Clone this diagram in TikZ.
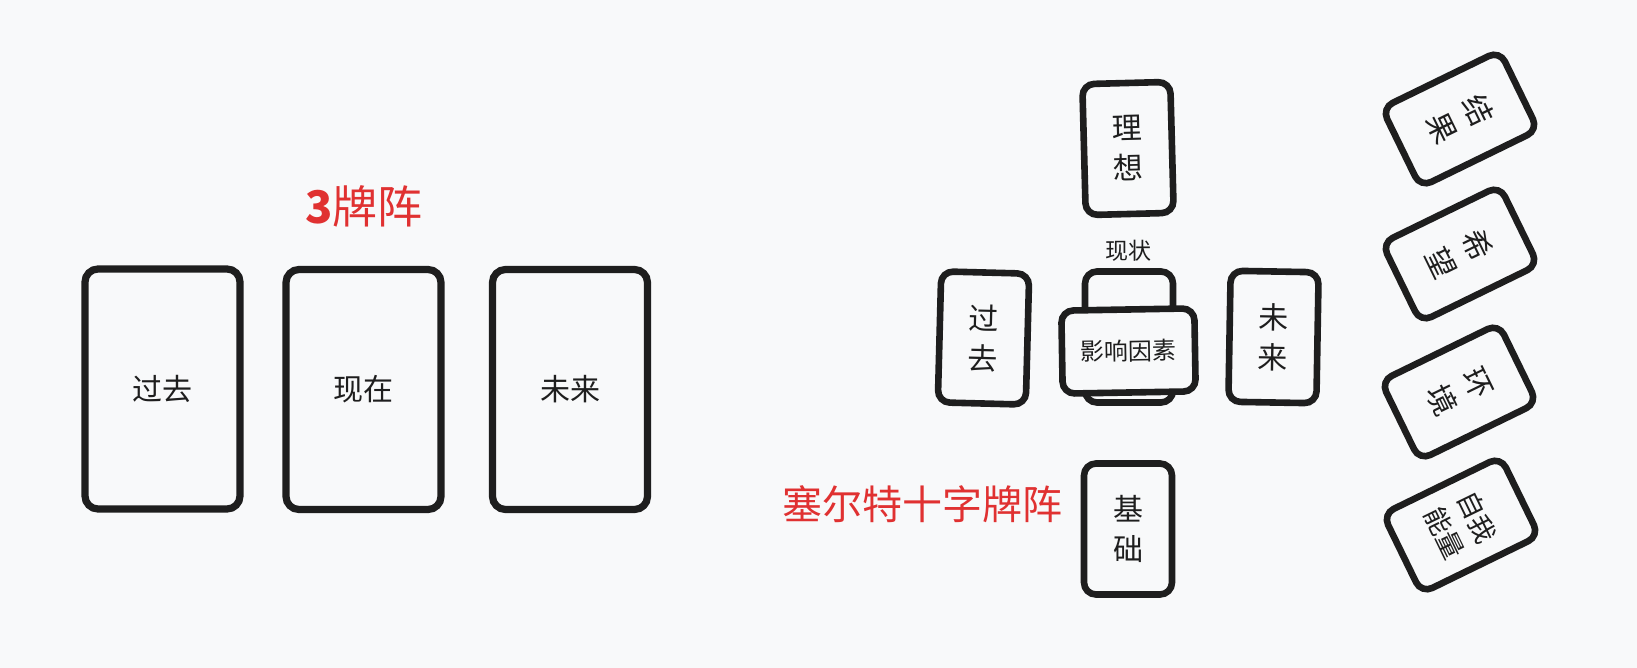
\documentclass[tikz,border=0pt]{standalone}
\usepackage{fontspec}
\setmainfont{Noto Sans CJK SC}
\definecolor{ink}{HTML}{1E1E1E}
\definecolor{redtxt}{HTML}{E03131}
\definecolor{bg}{HTML}{F8F9FA}
\begin{document}
\begin{tikzpicture}[x=0.5pt,y=-0.5pt,
 card/.style={draw=ink, line width=3.3pt, rounded corners=6pt, inner sep=0pt, fill=bg, text=ink, align=center, font=\fontsize{15pt}{20pt}\selectfont},
 bigcard/.style={card, line width=3.6pt, rounded corners=6.5pt, minimum width=77.5pt, minimum height=120pt},
 smallcard/.style={card, minimum width=44pt, minimum height=65.5pt},
 widecard/.style={card, minimum width=66.5pt, minimum height=41.5pt, font=\fontsize{12pt}{14pt}\selectfont},
 tiltcard/.style={smallcard, rotate=-64},
 titletext/.style={text=redtxt, font=\fontsize{20pt}{24pt}\selectfont, inner sep=0pt},
 labeltext/.style={text=ink, font=\fontsize{11.5pt}{14pt}\selectfont, inner sep=0pt}
]
\fill[bg] (0,0) rectangle (1637,668);
\useasboundingbox (0,0) rectangle (1637,668);

% three-card spread
\node[titletext, font=\fontsize{22.5pt}{26pt}\selectfont] (t3) at (364,206) {{\bfseries 3}牌阵};
\node[bigcard] (past) at (162.5,389) {过去};
\node[bigcard] (now) at (363.5,389.5) {现在};
\node[bigcard] (future) at (570,389.5) {未来};

% celtic cross
\node[smallcard, rotate=1.5] (ideal) at (1128,148.5) {理\\想};
\node[labeltext] (curlabel) at (1128,251) {现状};
\node[smallcard] (current) at (1129,337) {};
\node[widecard, rotate=1] (influence) at (1128.5,351) {影响因素};
\node[smallcard, rotate=-1.5] (cpast) at (983.5,338) {过\\去};
\node[smallcard, rotate=-1] (cfuture) at (1273.5,337) {未\\来};
\node[smallcard] (base) at (1128,529) {基\\础};
\node[titletext] (tcross) at (922,504) {塞尔特十字牌阵};

% tilted column
\node[tiltcard] (result) at (1460,119) {结\\果};
\node[tiltcard] (hope) at (1460,254) {希\\望};
\node[tiltcard] (env) at (1459,392) {环\\境};
\node[tiltcard, font=\fontsize{13.5pt}{18pt}\selectfont] (self) at (1461,525) {自我\\能量};
\end{tikzpicture}
\end{document}
